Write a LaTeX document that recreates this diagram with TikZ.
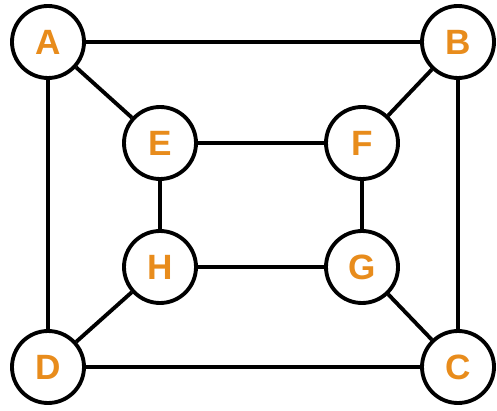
\documentclass[tikz,border=0pt]{standalone}
\usepackage{fontspec}
\setmainfont{Liberation Sans}
\definecolor{vtxorange}{RGB}{232,140,28}
\tikzset{
  vertex/.style={circle, draw=black, line width=2.2pt, fill=white, minimum size=1.44cm, inner sep=0pt,
    font=\fontsize{20}{24}\selectfont\bfseries, text=vtxorange},
  edge/.style={line width=2.2pt}
}
\begin{document}
\begin{tikzpicture}
					\useasboundingbox (0,0) rectangle (9.94,8.2); %picture frame
					\node[vertex] (A) at (0.96,7.36) {A}; %outer corners
					\node[vertex] (B) at (9.16,7.36) {B};
					\node[vertex] (C) at (9.16,0.86) {C};
					\node[vertex] (D) at (0.96,0.86) {D};
					\node[vertex] (E) at (3.2,5.34) {E}; %inner corners
					\node[vertex] (F) at (7.24,5.34) {F};
					\node[vertex] (G) at (7.24,2.86) {G};
					\node[vertex] (H) at (3.2,2.86) {H};
					\draw[edge] (A)--(B); %outer square
					\draw[edge] (B)--(C);
					\draw[edge] (C)--(D);
					\draw[edge] (D)--(A);
					\draw[edge] (E)--(F); %inner square
					\draw[edge] (F)--(G);
					\draw[edge] (G)--(H);
					\draw[edge] (H)--(E);
					\draw[edge] (A)--(E); %spokes
					\draw[edge] (B)--(F);
					\draw[edge] (C)--(G);
					\draw[edge] (D)--(H);
				\end{tikzpicture}
\end{document}
